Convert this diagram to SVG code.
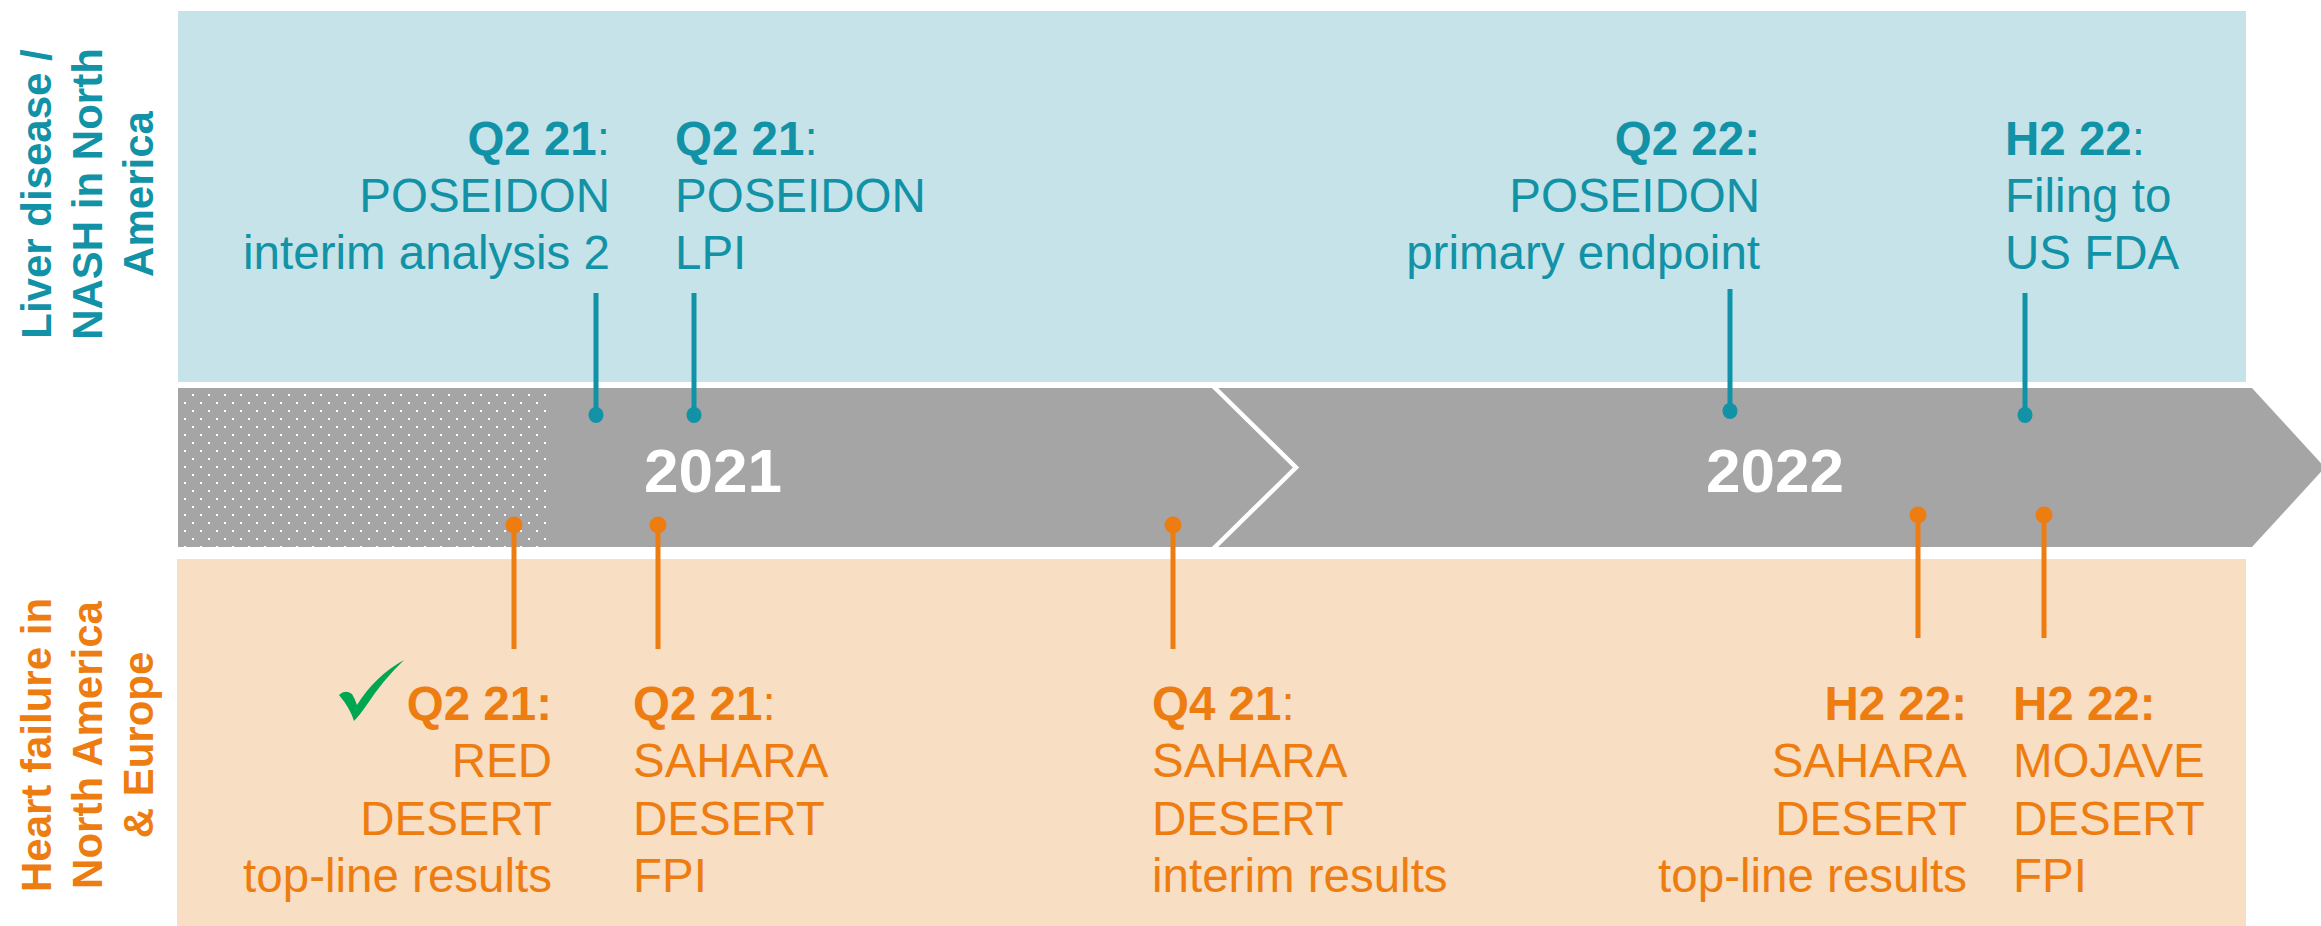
<svg xmlns="http://www.w3.org/2000/svg" width="2321" height="926" viewBox="0 0 2321 926">
  <defs>
    <pattern id="dots" patternUnits="userSpaceOnUse" x="184" y="394" width="16" height="16">
      <rect x="8" y="0" width="2" height="2" fill="#ffffff"/>
      <rect x="0" y="8" width="2" height="2" fill="#ffffff"/>
    </pattern>
    <style>
      text { font-family: "Liberation Sans", Arial, sans-serif; }
      .teal { fill: #1192A6; font-size: 47.5px; }
      .orng { fill: #EE7D11; font-size: 47.5px; }
      .b { font-weight: bold; }
      .side { font-size: 42px; font-weight: bold; text-anchor: middle; }
      .year { fill: #ffffff; font-size: 62px; font-weight: bold; }
      .tstem { stroke: #1192A6; stroke-width: 5; fill: none; }
      .ostem { stroke: #EE7D11; stroke-width: 5; fill: none; }
      .tdot { fill: #1192A6; }
      .odot { fill: #EE7D11; }
    </style>
  </defs>
  <rect width="2321" height="926" fill="#ffffff"/>

  <g id="band-liver">
    <rect x="178" y="11" width="2068" height="371" fill="#C5E3E8"/>
  </g>
  <g id="band-heart">
    <rect x="177" y="559" width="2069" height="367" fill="#F8DEC3"/>
  </g>

  <g id="timeline">
    <path d="M178,388 H2252 L2325,467.5 L2252,547 H178 Z" fill="#A5A5A5"/>
    <rect x="178" y="388" width="370" height="159" fill="url(#dots)"/>
    <polyline points="1213,386 1296,467.5 1213,549" fill="none" stroke="#ffffff" stroke-width="4.5"/>
    <text class="year" x="644" y="492">2021</text>
    <text class="year" x="1706" y="492">2022</text>
  </g>

  <g id="label-liver">
    <text class="side" fill="#1192A6" transform="translate(51,194) rotate(-90)"><tspan x="0" y="0">Liver disease /</tspan><tspan x="0" y="51">NASH in North</tspan><tspan x="0" y="102">America</tspan></text>
  </g>
  <g id="label-heart">
    <text class="side" fill="#EE7D11" transform="translate(51,745) rotate(-90)"><tspan x="0" y="0">Heart failure in</tspan><tspan x="0" y="51">North America</tspan><tspan x="0" y="102">&amp; Europe</tspan></text>
  </g>

  <g id="connectors">
    <line class="tstem" x1="596" y1="293" x2="596" y2="415"/>
    <ellipse class="tdot" cx="596" cy="415" rx="7.5" ry="8"/>
    <line class="tstem" x1="694" y1="293" x2="694" y2="415"/>
    <ellipse class="tdot" cx="694" cy="415" rx="7.5" ry="8"/>
    <line class="tstem" x1="1730" y1="289" x2="1730" y2="411"/>
    <ellipse class="tdot" cx="1730" cy="411" rx="7.5" ry="8"/>
    <line class="tstem" x1="2025" y1="293" x2="2025" y2="415"/>
    <ellipse class="tdot" cx="2025" cy="415" rx="7.5" ry="8"/>

    <line class="ostem" x1="514" y1="525" x2="514" y2="649"/>
    <ellipse class="odot" cx="514" cy="525" rx="8.5" ry="8.5"/>
    <line class="ostem" x1="658" y1="525" x2="658" y2="649"/>
    <ellipse class="odot" cx="658" cy="525" rx="8.5" ry="8.5"/>
    <line class="ostem" x1="1173" y1="525" x2="1173" y2="649"/>
    <ellipse class="odot" cx="1173" cy="525" rx="8.5" ry="8.5"/>
    <line class="ostem" x1="1918" y1="515" x2="1918" y2="638"/>
    <ellipse class="odot" cx="1918" cy="515" rx="8.5" ry="8.5"/>
    <line class="ostem" x1="2044" y1="515" x2="2044" y2="638"/>
    <ellipse class="odot" cx="2044" cy="515" rx="8.5" ry="8.5"/>
  </g>

  <g id="m-poseidon-ia2">
    <text class="teal" text-anchor="end"><tspan x="610" y="154.5"><tspan class="b">Q2 21</tspan>:</tspan><tspan x="610" y="211.5">POSEIDON</tspan><tspan x="610" y="268.5">interim analysis 2</tspan></text>
  </g>
  <g id="m-poseidon-lpi">
    <text class="teal"><tspan x="675" y="154.5"><tspan class="b">Q2 21</tspan>:</tspan><tspan x="675" y="211.5">POSEIDON</tspan><tspan x="675" y="268.5">LPI</tspan></text>
  </g>
  <g id="m-poseidon-primary">
    <text class="teal" text-anchor="end"><tspan x="1760" y="154.5" class="b">Q2 22:</tspan><tspan x="1760" y="211.5">POSEIDON</tspan><tspan x="1760" y="268.5">primary endpoint</tspan></text>
  </g>
  <g id="m-fda-filing">
    <text class="teal"><tspan x="2005" y="154.5"><tspan class="b">H2 22</tspan>:</tspan><tspan x="2005" y="211.5">Filing to</tspan><tspan x="2005" y="268.5">US FDA</tspan></text>
  </g>

  <g id="m-red-desert">
    <path d="M339,695 Q345,689 352,694 Q355,699 357,705 Q375,676 404,660 Q383,680 366,706 Q359,716 354,721 Q350,708 339,695 Z" fill="#00A650"/>
    <text class="orng" text-anchor="end"><tspan x="552" y="719.5" class="b">Q2 21:</tspan><tspan x="552" y="777">RED</tspan><tspan x="552" y="834.5">DESERT</tspan><tspan x="552" y="892">top-line results</tspan></text>
  </g>
  <g id="m-sahara-fpi">
    <text class="orng"><tspan x="633" y="719.5"><tspan class="b">Q2 21</tspan>:</tspan><tspan x="633" y="777">SAHARA</tspan><tspan x="633" y="834.5">DESERT</tspan><tspan x="633" y="892">FPI</tspan></text>
  </g>
  <g id="m-sahara-interim">
    <text class="orng"><tspan x="1152" y="719.5"><tspan class="b">Q4 21</tspan>:</tspan><tspan x="1152" y="777">SAHARA</tspan><tspan x="1152" y="834.5">DESERT</tspan><tspan x="1152" y="892">interim results</tspan></text>
  </g>
  <g id="m-sahara-topline">
    <text class="orng" text-anchor="end"><tspan x="1967" y="719.5" class="b">H2 22:</tspan><tspan x="1967" y="777">SAHARA</tspan><tspan x="1967" y="834.5">DESERT</tspan><tspan x="1967" y="892">top-line results</tspan></text>
  </g>
  <g id="m-mojave-fpi">
    <text class="orng"><tspan x="2013" y="719.5" class="b">H2 22:</tspan><tspan x="2013" y="777">MOJAVE</tspan><tspan x="2013" y="834.5">DESERT</tspan><tspan x="2013" y="892">FPI</tspan></text>
  </g>
</svg>
